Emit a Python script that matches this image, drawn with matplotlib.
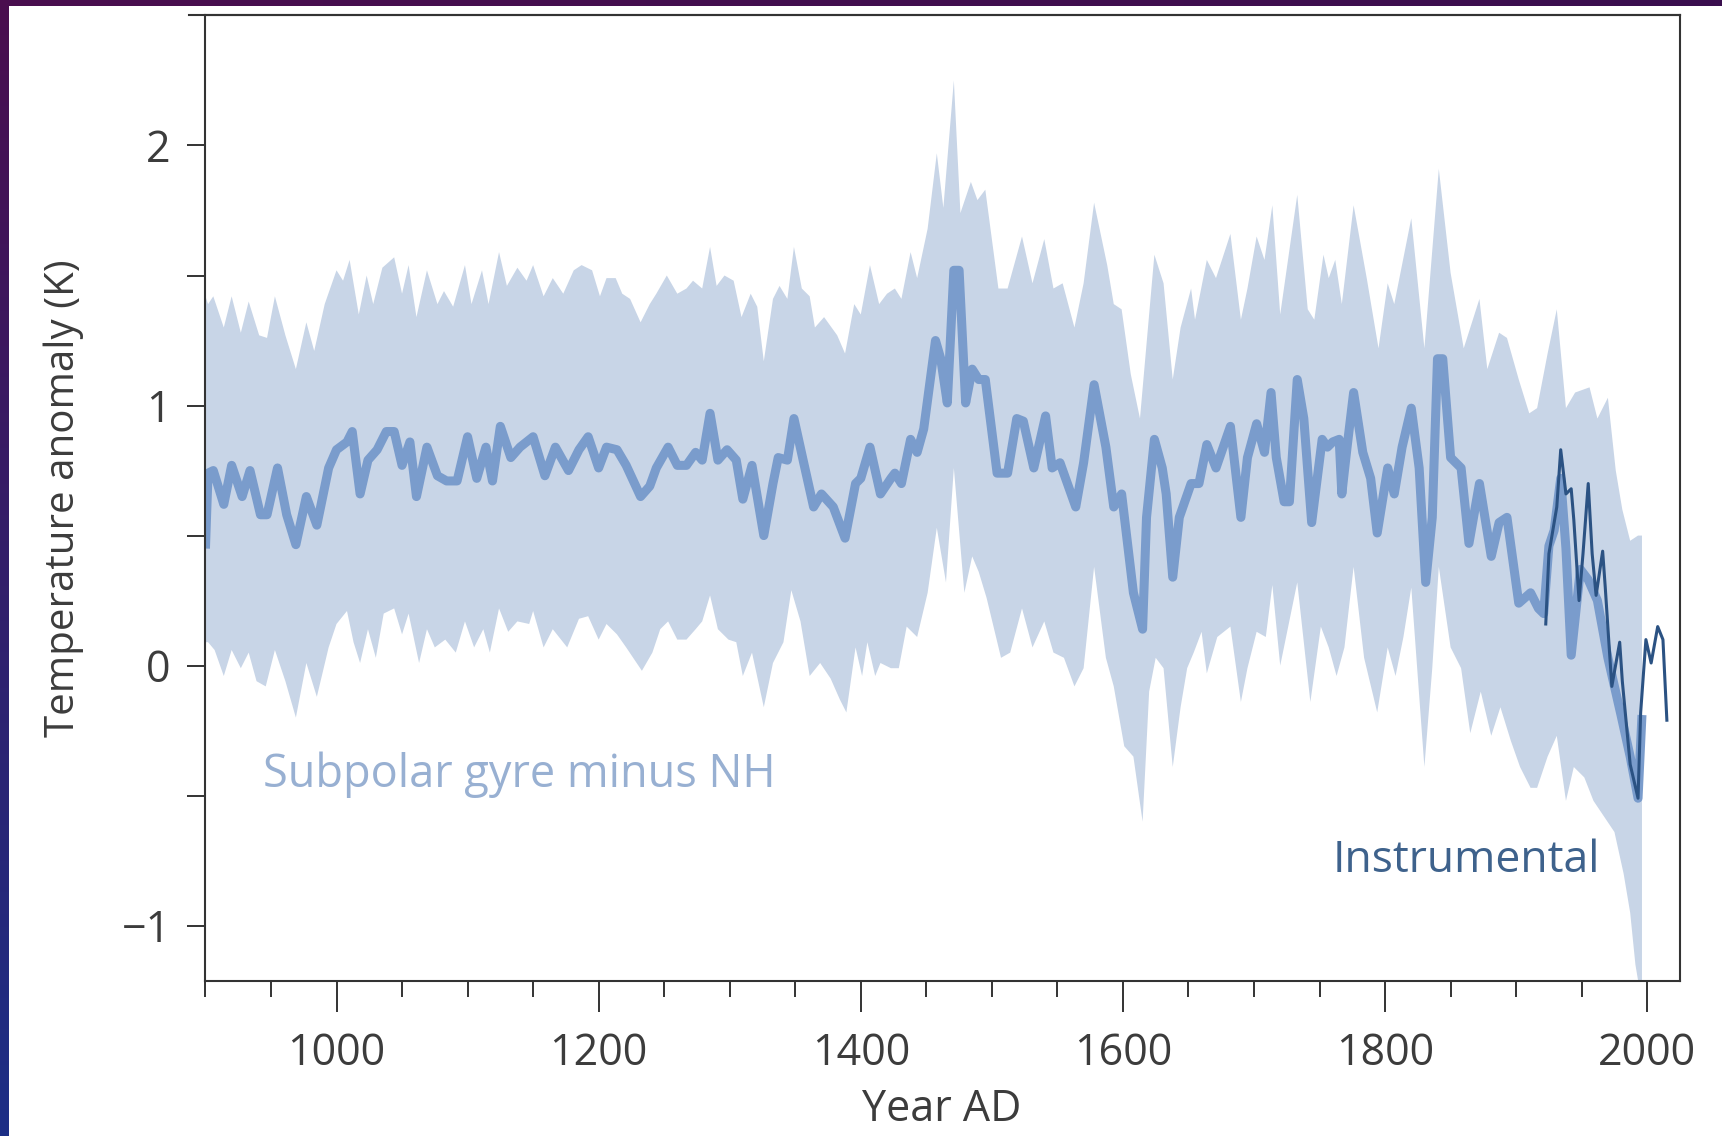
import numpy as np
import matplotlib
matplotlib.use("Agg")
import matplotlib.pyplot as plt
from matplotlib.colors import LinearSegmentedColormap

plt.rcParams['font.family'] = ['Open Sans', 'DejaVu Sans']

# smoothed reconstruction (thick line)
center_years = [900, 902, 906, 914, 920, 928, 934, 942, 947, 955, 962, 969, 977, 985, 994,
                1000, 1008, 1012, 1018, 1024, 1031, 1038, 1044, 1050, 1056, 1061, 1069, 1077,
                1084, 1092, 1100, 1107, 1114, 1119, 1125, 1133, 1140, 1150, 1159, 1167, 1177,
                1185, 1192, 1200, 1206, 1214, 1221, 1232, 1239, 1244, 1253, 1260, 1267, 1274,
                1279, 1285, 1291, 1298, 1305, 1310, 1317, 1326, 1333, 1337, 1344, 1349, 1356,
                1364, 1370, 1379, 1388, 1396, 1400, 1407, 1415, 1423, 1426, 1431, 1438, 1443,
                1448, 1457, 1461, 1466, 1471, 1475, 1480, 1485, 1490, 1495, 1504, 1512, 1519,
                1524, 1532, 1541, 1546, 1552, 1564, 1570, 1578, 1587, 1593, 1599, 1608, 1615,
                1618, 1624, 1630, 1633, 1638, 1643, 1652, 1658, 1664, 1671, 1682, 1690, 1695,
                1702, 1708, 1713, 1717, 1723, 1727, 1733, 1738, 1744, 1752, 1756, 1760, 1765,
                1767, 1771, 1776, 1783, 1789, 1794, 1802, 1807, 1813, 1820, 1826, 1831, 1836,
                1840, 1844, 1850, 1858, 1864, 1872, 1881, 1887, 1893, 1902, 1911, 1917, 1921,
                1925, 1929, 1934, 1938, 1942, 1949, 1955, 1962, 1970, 1980, 1987, 1993, 1996]
center_vals = [0.45, 0.74, 0.75, 0.62, 0.77, 0.65, 0.75, 0.58, 0.58, 0.76, 0.58, 0.465, 0.65, 0.54, 0.76,
               0.83, 0.86, 0.90, 0.66, 0.79, 0.83, 0.90, 0.90, 0.77, 0.86, 0.65, 0.84, 0.73,
               0.71, 0.71, 0.88, 0.72, 0.84, 0.71, 0.92, 0.80, 0.84, 0.88, 0.73, 0.84, 0.75,
               0.83, 0.88, 0.76, 0.84, 0.83, 0.77, 0.65, 0.69, 0.76, 0.84, 0.77, 0.77, 0.82,
               0.79, 0.97, 0.79, 0.83, 0.79, 0.64, 0.77, 0.50, 0.70, 0.80, 0.79, 0.95, 0.79,
               0.61, 0.66, 0.61, 0.49, 0.70, 0.72, 0.84, 0.66, 0.72, 0.74, 0.70, 0.87, 0.82,
               0.91, 1.25, 1.18, 1.01, 1.52, 1.52, 1.01, 1.14, 1.10, 1.10, 0.74, 0.74, 0.95,
               0.94, 0.76, 0.96, 0.76, 0.78, 0.61, 0.78, 1.08, 0.84, 0.61, 0.66, 0.28, 0.14,
               0.57, 0.87, 0.76, 0.66, 0.34, 0.57, 0.70, 0.70, 0.85, 0.76, 0.92, 0.57, 0.80,
               0.93, 0.82, 1.05, 0.80, 0.63, 0.63, 1.10, 0.95, 0.55, 0.87, 0.84, 0.86, 0.87,
               0.66, 0.84, 1.05, 0.82, 0.72, 0.51, 0.76, 0.66, 0.84, 0.99, 0.76, 0.32, 0.57,
               1.18, 1.18, 0.80, 0.76, 0.47, 0.70, 0.42, 0.55, 0.57, 0.24, 0.28, 0.22, 0.20,
               0.46, 0.52, 0.72, 0.45, 0.04, 0.37, 0.33, 0.25, 0.03, -0.19, -0.35, -0.51, -0.19]

# uncertainty band, upper edge
upper_years = [900, 902, 906, 914, 920, 927, 933, 941, 947, 953, 961, 969, 977, 983, 991,
               1000, 1005, 1010, 1017, 1023, 1028, 1035, 1044, 1050, 1055, 1061, 1069, 1077,
               1082, 1089, 1098, 1103, 1111, 1116, 1124, 1130, 1138, 1145, 1150, 1158, 1165,
               1173, 1181, 1187, 1195, 1201, 1206, 1213, 1218, 1224, 1232, 1239, 1244, 1252,
               1260, 1267, 1272, 1279, 1285, 1290, 1296, 1303, 1309, 1316, 1321, 1326, 1333,
               1338, 1344, 1349, 1355, 1361, 1365, 1372, 1382, 1388, 1395, 1400, 1407, 1414,
               1420, 1426, 1431, 1438, 1443, 1451, 1458, 1463, 1471, 1476, 1484, 1489, 1495,
               1505, 1512, 1523, 1531, 1540, 1547, 1554, 1563, 1570, 1578, 1588, 1593, 1599,
               1606, 1613, 1624, 1631, 1638, 1644, 1652, 1655, 1664, 1671, 1682, 1690, 1695,
               1702, 1708, 1714, 1720, 1733, 1741, 1746, 1753, 1757, 1762, 1767, 1776, 1786,
               1795, 1802, 1807, 1820, 1830, 1841, 1850, 1860, 1872, 1878, 1887, 1893, 1902,
               1910, 1916, 1924, 1931, 1938, 1945, 1956, 1962, 1970, 1976, 1981, 1987, 1993, 1996]
upper_vals = [1.42, 1.39, 1.42, 1.30, 1.42, 1.28, 1.40, 1.27, 1.26, 1.42, 1.27, 1.14, 1.32, 1.21, 1.39,
              1.52, 1.48, 1.56, 1.35, 1.50, 1.39, 1.53, 1.57, 1.43, 1.54, 1.34, 1.52, 1.39,
              1.44, 1.38, 1.54, 1.39, 1.52, 1.39, 1.59, 1.46, 1.53, 1.48, 1.54, 1.42, 1.49,
              1.43, 1.52, 1.54, 1.52, 1.42, 1.49, 1.49, 1.43, 1.41, 1.32, 1.39, 1.43, 1.50,
              1.43, 1.45, 1.48, 1.45, 1.61, 1.46, 1.50, 1.48, 1.34, 1.43, 1.38, 1.17, 1.41,
              1.46, 1.41, 1.61, 1.45, 1.42, 1.30, 1.34, 1.27, 1.20, 1.39, 1.35, 1.54, 1.39,
              1.43, 1.45, 1.41, 1.59, 1.49, 1.68, 1.97, 1.76, 2.25, 1.74, 1.86, 1.79, 1.83,
              1.45, 1.45, 1.65, 1.47, 1.64, 1.45, 1.47, 1.30, 1.47, 1.78, 1.54, 1.39, 1.37,
              1.12, 0.95, 1.58, 1.47, 1.10, 1.30, 1.45, 1.33, 1.56, 1.49, 1.66, 1.33, 1.45,
              1.65, 1.56, 1.77, 1.35, 1.81, 1.37, 1.33, 1.58, 1.49, 1.56, 1.39, 1.77, 1.49,
              1.22, 1.47, 1.39, 1.72, 1.22, 1.91, 1.51, 1.22, 1.41, 1.14, 1.28, 1.26, 1.10,
              0.97, 0.99, 1.20, 1.37, 0.99, 1.05, 1.07, 0.95, 1.03, 0.75, 0.60, 0.48, 0.50, 0.50]

# uncertainty band, lower edge
lower_years = [900, 902, 907, 914, 920, 927, 933, 939, 946, 953, 961, 969, 977, 985, 994,
               1000, 1008, 1013, 1018, 1024, 1030, 1036, 1044, 1050, 1055, 1063, 1069, 1075,
               1083, 1091, 1098, 1105, 1112, 1117, 1124, 1131, 1138, 1147, 1150, 1158, 1165,
               1176, 1185, 1192, 1200, 1206, 1214, 1221, 1233, 1241, 1247, 1253, 1260, 1267,
               1274, 1279, 1285, 1291, 1299, 1305, 1310, 1317, 1326, 1333, 1341, 1347, 1354,
               1361, 1369, 1377, 1384, 1389, 1396, 1401, 1405, 1411, 1415, 1423, 1429, 1435,
               1443, 1451, 1458, 1465, 1471, 1479, 1485, 1490, 1496, 1507, 1514, 1523, 1531,
               1540, 1547, 1555, 1563, 1570, 1578, 1587, 1593, 1601, 1608, 1615, 1620, 1625,
               1631, 1638, 1644, 1649, 1654, 1660, 1664, 1672, 1682, 1690, 1695, 1702, 1709,
               1714, 1720, 1733, 1743, 1751, 1757, 1763, 1769, 1776, 1784, 1794, 1802, 1808,
               1814, 1820, 1830, 1836, 1841, 1850, 1858, 1865, 1873, 1881, 1888, 1896, 1903,
               1911, 1916, 1924, 1931, 1938, 1944, 1952, 1959, 1967, 1975, 1982, 1987, 1991, 1996]
lower_vals = [0.09, 0.09, 0.06, -0.04, 0.06, -0.01, 0.05, -0.06, -0.08, 0.06, -0.06, -0.20, 0.01, -0.12, 0.07,
              0.16, 0.21, 0.09, 0.01, 0.14, 0.03, 0.20, 0.22, 0.12, 0.20, 0.01, 0.14, 0.07,
              0.10, 0.05, 0.17, 0.07, 0.14, 0.05, 0.22, 0.13, 0.17, 0.16, 0.21, 0.07, 0.14,
              0.07, 0.18, 0.19, 0.10, 0.16, 0.12, 0.07, -0.02, 0.05, 0.14, 0.17, 0.10, 0.10,
              0.14, 0.17, 0.27, 0.14, 0.10, 0.09, -0.04, 0.05, -0.16, 0.01, 0.09, 0.29, 0.17,
              -0.04, 0.01, -0.05, -0.13, -0.18, 0.07, -0.04, 0.09, -0.04, 0.01, -0.01, -0.01, 0.15,
              0.11, 0.28, 0.53, 0.32, 0.76, 0.28, 0.42, 0.36, 0.26, 0.03, 0.05, 0.22, 0.07,
              0.17, 0.05, 0.03, -0.08, -0.01, 0.38, 0.03, -0.08, -0.31, -0.35, -0.60, -0.10, 0.03,
              -0.01, -0.39, -0.16, -0.01, 0.05, 0.13, -0.03, 0.11, 0.15, -0.14, -0.01, 0.13, 0.11,
              0.31, 0.00, 0.32, -0.14, 0.15, 0.07, -0.04, 0.07, 0.38, 0.03, -0.18, 0.07, -0.04,
              0.11, 0.30, -0.39, -0.01, 0.38, 0.07, -0.01, -0.26, -0.10, -0.27, -0.16, -0.29, -0.39,
              -0.47, -0.47, -0.35, -0.27, -0.52, -0.39, -0.43, -0.52, -0.58, -0.64, -0.80, -0.95, -1.15, -1.30]

# instrumental record
instr_years = [1922.6, 1925, 1931, 1934, 1938, 1942, 1944, 1948, 1951, 1955, 1958, 1961, 1966,
               1968, 1971, 1973, 1979, 1981, 1987, 1993, 1995, 1999, 2003, 2008, 2012, 2015]
instr_vals = [0.16, 0.43, 0.61, 0.83, 0.66, 0.68, 0.56, 0.25, 0.43, 0.70, 0.43, 0.27, 0.44,
              0.30, 0.07, -0.08, 0.09, -0.06, -0.38, -0.51, -0.18, 0.10, 0.01, 0.15, 0.10, -0.21]

fig = plt.figure(figsize=(17.22, 11.36), dpi=100)
fig.patch.set_facecolor('white')

# dark frame strips on the left and top edges of the slide
edge = LinearSegmentedColormap.from_list('edge', ['#4a0e4e', '#1c2f86'])
lax = fig.add_axes([0, 0, 9 / 1722, 1])
lax.imshow(np.linspace(0, 1, 256).reshape(-1, 1), aspect='auto', cmap=edge)
lax.axis('off')
tax = fig.add_axes([0, 1 - 6 / 1136, 1, 6 / 1136])
tax.imshow(np.linspace(0, 1, 256).reshape(1, -1), aspect='auto',
           cmap=LinearSegmentedColormap.from_list('top', ['#4a0e4e', '#3a0f4e']))
tax.axis('off')

ax = fig.add_axes([0.1193, 0.1364, 0.9756 - 0.1193, 0.9864 - 0.1364])

band_x = np.concatenate([upper_years, lower_years[::-1]])
band_y = np.concatenate([upper_vals, lower_vals[::-1]])
ax.fill(band_x, band_y, color='#c8d5e7', lw=0, zorder=1)
ax.plot(center_years, center_vals, color='#7a9ccc', lw=6.5, solid_joinstyle='round',
        solid_capstyle='butt', zorder=2)
ax.plot(instr_years, instr_vals, color='#2b5283', lw=2.2, zorder=3)

ax.set_xlim(900, 2025)
ax.set_ylim(-1.213, 2.50)

ax.set_xticks([1000, 1200, 1400, 1600, 1800, 2000])
ax.set_xticks(np.arange(900, 2025, 50), minor=True)
ax.set_yticks([-1, 0, 1, 2])
ax.set_yticks([-0.5, 0.5, 1.5], minor=True)
ax.set_yticklabels(['\u22121', '0', '1', '2'])

tick_col = '#3c3c3c'
ax.tick_params(axis='x', which='major', direction='out', length=22, width=1.4,
               color='#333333', labelsize=31, labelcolor=tick_col, pad=14)
ax.tick_params(axis='x', which='minor', direction='out', length=11.5, width=1.4, color='#333333')
ax.tick_params(axis='y', which='both', direction='out', length=13, width=1.4,
               color='#333333', labelsize=31, labelcolor=tick_col, pad=12)

for side in ['left', 'right', 'bottom', 'top']:
    ax.spines[side].set_color('#333333')
    ax.spines[side].set_linewidth(1.5)
# top rule runs a little past the left spine
ax.plot([-0.011, 1], [1, 1], transform=ax.transAxes, clip_on=False, color='#333333', lw=1.5)

ax.set_xlabel('Year AD', fontsize=31, color=tick_col)
ax.xaxis.set_label_coords(0.4996, -0.133)
ax.xaxis.label.set_verticalalignment('center')
ax.set_ylabel('Temperature anomaly (K)', fontsize=29, color=tick_col, va='center')
ax.yaxis.set_label_coords(-0.096, 0.5)

ax.text(944, -0.42, 'Subpolar gyre minus NH', fontsize=32.5, color='#98b0d2', va='center')
ax.text(1760, -0.75, 'Instrumental', fontsize=32, color='#3e628c', va='center')

fig.savefig('out.png', dpi=100, facecolor='white')
